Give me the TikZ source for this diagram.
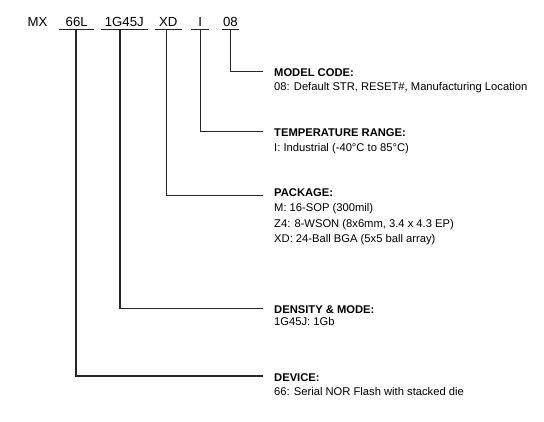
\documentclass[tikz,border=0pt]{standalone}
\usepackage{fontspec}
\setmainfont{Liberation Sans}
\begin{document}
\begin{tikzpicture}[x=1pt,y=-1pt,
  code/.style={font=\fontsize{13.2}{15}\selectfont, anchor=base, inner xsep=0pt, inner ysep=2.7pt, text depth=0pt},
  head/.style={font=\fontsize{11.2}{13}\selectfont\bfseries, anchor=base west, inner sep=0pt},
  body/.style={font=\fontsize{11.2}{15.5}\selectfont, anchor=base west, inner sep=0pt, align=left},
  conn/.style={line width=1.1pt, draw=black!85},
  uline/.style={line width=1.1pt, draw=black!85}]
\useasboundingbox (0,0) rectangle (544,421);
% part number codes
\node[code] (cMX) at (37.5,26.7) {MX};
\node[code, minimum width=34.7pt] (c66) at (76.7,26.7) {66L};
\node[code, minimum width=46.7pt] (c1G) at (124.3,26.7) {1G45J};
\node[code, minimum width=27pt] (cXD) at (168.2,26.7) {XD};
\node[code, minimum width=17.3pt] (cI) at (200.3,26.7) {I};
\node[code, minimum width=17pt] (c08) at (230.5,26.7) {08};
\foreach \n in {c66,c1G,cXD,cI,c08}
  \draw[uline] (\n.south west) -- (\n.south east);
% headings and descriptions
\node[head] (hModel) at (274,76) {MODEL CODE:};
\node[body] (bModel) at (274,90.7) {08: Default STR, RESET\#, Manufacturing Location};
\node[head] (hTemp) at (274,136.5) {TEMPERATURE RANGE:};
\node[body] (bTemp) at (274,151.7) {I: Industrial (-40°C to 85°C)};
\node[head] (hPkg) at (274,196) {PACKAGE:};
\node[body, anchor=north west] (bPkg) at (274,203.5) {M: 16-SOP (300mil)\\Z4: 8-WSON (8x6mm, 3.4 x 4.3 EP)\\XD: 24-Ball BGA (5x5 ball array)};
\node[head] (hDen) at (274,313.3) {DENSITY \& MODE:};
\node[body] (bDen) at (274,325.7) {1G45J: 1Gb};
\node[head] (hDev) at (274,381.7) {DEVICE:};
\node[body] (bDev) at (274,395.7) {66: Serial NOR Flash with stacked die};
% connectors
\draw[conn] (c08.south) |- ([shift={(-11pt,4.3pt)}]hModel.base west);
\draw[conn] (cI.south) |- ([shift={(-11pt,4.8pt)}]hTemp.base west);
\draw[conn] ([xshift=-1.7pt]cXD.south) |- ([shift={(-11pt,0.7pt)}]hPkg.base west);
\draw[conn] ([xshift=-4.3pt]c1G.south) |- ([shift={(-11pt,5pt)}]hDen.base west);
\draw[conn] ([xshift=-0.7pt]c66.south) |- ([shift={(-11pt,5.7pt)}]hDev.base west);
\end{tikzpicture}
\end{document}
